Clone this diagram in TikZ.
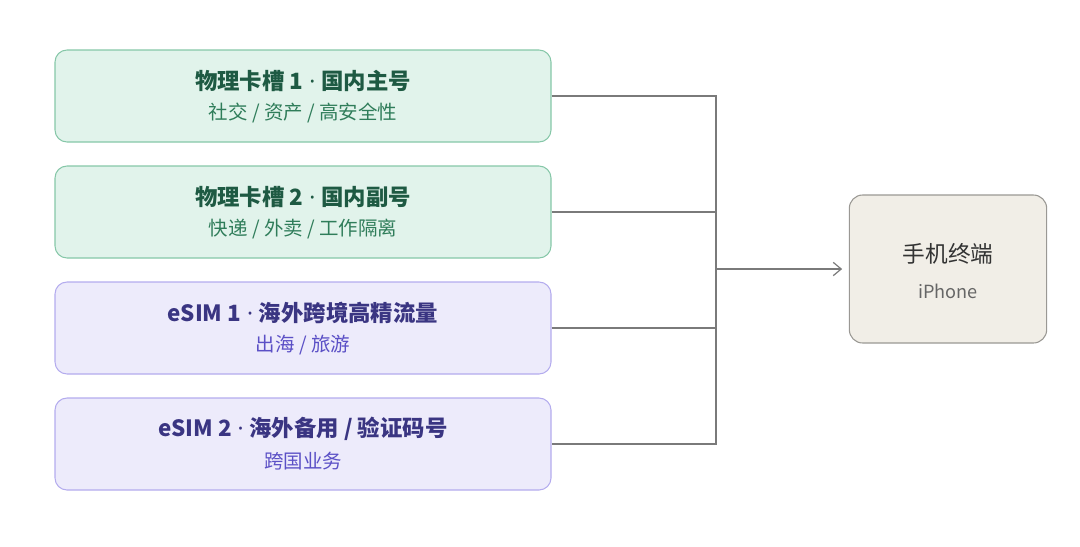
\documentclass[tikz,border=0pt]{standalone}
\usepackage{fontspec}
\setmainfont{Noto Sans CJK SC}
\newfontfamily\latinf{Noto Sans}
\newcommand{\md}{{\latinf\ ·\ }}
\usetikzlibrary{arrows.meta}
\definecolor{gfill}{HTML}{E1F3EB}\definecolor{gdraw}{HTML}{86C7A8}
\definecolor{gtitle}{HTML}{1E5A43}\definecolor{gsub}{HTML}{2F7D5A}
\definecolor{pfill}{HTML}{EDEBFB}\definecolor{pdraw}{HTML}{B4ACEE}
\definecolor{ptitle}{HTML}{3A3582}\definecolor{psub}{HTML}{5B50C6}
\definecolor{dfill}{HTML}{F1EEE7}\definecolor{ddraw}{HTML}{9A9894}
\definecolor{line}{HTML}{7A7A7A}
\begin{document}
\begin{tikzpicture}[x=0.75pt,y=-0.75pt,
 box/.style={rounded corners=9pt,line width=0.8pt,minimum width=372pt,minimum height=69pt,inner sep=0pt},
 g/.style={box,fill=gfill,draw=gdraw},
 p/.style={box,fill=pfill,draw=pdraw},
 tt/.style={font=\fontsize{16.8}{19}\selectfont\bfseries},
 st/.style={font=\fontsize{14.6}{17}\selectfont},
 conn/.style={draw=line,line width=0.9pt}]
\useasboundingbox (0,0) rectangle (1080,546);
\node[g] (a) at (303,96) {};
\node[g] (b) at (303,212) {};
\node[p] (c) at (303,328) {};
\node[p] (d) at (303,444) {};
\node[tt,text=gtitle] (at) at (303,81) {物理卡槽 1\md 国内主号};
\node[st,text=gsub] (as) at (303,113) {社交 / 资产 / 高安全性};
\node[tt,text=gtitle] (bt) at (303,197) {物理卡槽 2\md 国内副号};
\node[st,text=gsub] (bs) at (303,229) {快递 / 外卖 / 工作隔离};
\node[tt,text=ptitle] (ct) at (303,313) {eSIM 1\md 海外跨境高精流量};
\node[st,text=psub] (cs) at (303,345) {出海 / 旅游};
\node[tt,text=ptitle] (dt) at (303,429) {eSIM 2\md 海外备用 / 验证码号};
\node[st,text=psub] (ds) at (303,461) {跨国业务};
\node[rounded corners=10pt,fill=dfill,draw=ddraw,line width=0.8pt,minimum width=148pt,minimum height=111pt] (e) at (948,269) {};
\node[font=\fontsize{17}{20}\selectfont,text=black!80] (et) at (948,254) {手机终端};
\node[font=\fontsize{13.6}{16}\selectfont,text=black!60] (es) at (948,291) {iPhone};
\coordinate (j1) at (716,96);\coordinate (j4) at (716,444);\coordinate (m) at (716,269);
\draw[conn] (a.east) -- (j1) -- (j4) -- (d.east);
\draw[conn] (b.east) -- (716,212);
\draw[conn] (c.east) -- (716,328);
\draw[conn,-{Straight Barb[length=6pt,width=10pt]}] (m) -- ([xshift=-5pt]e.west);
\end{tikzpicture}
\end{document}
